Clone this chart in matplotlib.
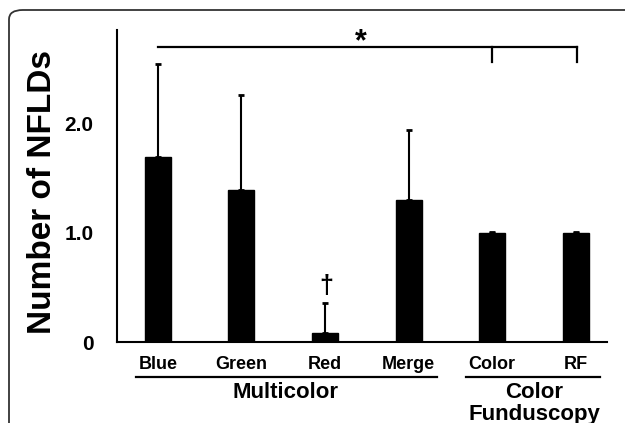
import matplotlib.pyplot as plt
import numpy as np
from matplotlib.patches import FancyBboxPatch

plt.rcParams['font.family'] = ['Liberation Sans', 'DejaVu Sans']
plt.rcParams['font.weight'] = 'bold'

# data
categories = ['Blue', 'Green', 'Red', 'Merge', 'Color', 'RF']
means = [1.70, 1.39, 0.08, 1.30, 1.00, 1.00]
sd_upper = [0.85, 0.87, 0.28, 0.64, 0.005, 0.005]
yticks = [0, 1, 2]
ytick_labels = ['0', '1.0', '2.0']

fig = plt.figure(figsize=(6.25, 4.23), dpi=100)

# rounded frame around the panel (runs off right and bottom edge)
frame = FancyBboxPatch((9 / 625, -0.1), 1.1, 0.1 + 413 / 423,
                       boxstyle='round,pad=0,rounding_size=0.022',
                       transform=fig.transFigure, fill=False,
                       edgecolor='#333333', linewidth=1.3)
fig.patches.append(frame)

ax = fig.add_axes([117 / 625, 81 / 423, 490 / 625, 312 / 423])

x = np.arange(len(categories))
ax.bar(x, means, width=0.31, color='black', edgecolor='black')
ax.errorbar(x, means, yerr=[np.zeros(len(x)), sd_upper], fmt='none',
            ecolor='black', elinewidth=1.5, capsize=2.5, capthick=2)

ax.set_xlim(-0.488, 5.373)
ax.set_ylim(0, 2.86)

for s in ['top', 'right']:
    ax.spines[s].set_visible(False)
ax.spines['left'].set_linewidth(1.5)
ax.spines['bottom'].set_linewidth(1.5)

ax.set_yticks(yticks)
ax.set_yticklabels(ytick_labels, fontsize=15, fontweight='bold')
ax.tick_params(axis='y', length=0, pad=17)
ax.set_xticks(x)
ax.set_xticklabels(categories, fontsize=13, fontweight='bold')
ax.tick_params(axis='x', length=0, pad=10)

ax.set_ylabel('Number of NFLDs', fontsize=24, fontweight='bold')
ax.yaxis.label.set_va('center')
ax.yaxis.set_label_coords(-0.153, 0.48)

# significance bracket
ax.plot([0, 5.02], [2.70, 2.70], color='black', lw=1.6, clip_on=False)
ax.plot([4, 4], [2.70, 2.57], color='black', lw=1.6, clip_on=False)
ax.plot([5.02, 5.02], [2.70, 2.57], color='black', lw=1.6, clip_on=False)
ax.text(2.43, 2.745, '*', fontsize=22, fontweight='bold', ha='center', va='center')

# dagger over red bar
ax.text(2.01, 0.51, '†', fontsize=18, fontweight='bold', ha='center', va='center')

# group labels
tr = ax.get_xaxis_transform()
ax.plot([-0.26, 3.34], [-0.112, -0.112], color='black', lw=1.6,
        transform=tr, clip_on=False)
ax.plot([3.69, 5.29], [-0.112, -0.112], color='black', lw=1.6,
        transform=tr, clip_on=False)
ax.text(1.53, -0.162, 'Multicolor', fontsize=16, fontweight='bold',
        ha='center', va='center', transform=tr)
ax.text(4.5, -0.162, 'Color', fontsize=16, fontweight='bold',
        ha='center', va='center', transform=tr)
ax.text(4.5, -0.232, 'Funduscopy', fontsize=16, fontweight='bold',
        ha='center', va='center', transform=tr)

plt.savefig('out.png', dpi=100)
